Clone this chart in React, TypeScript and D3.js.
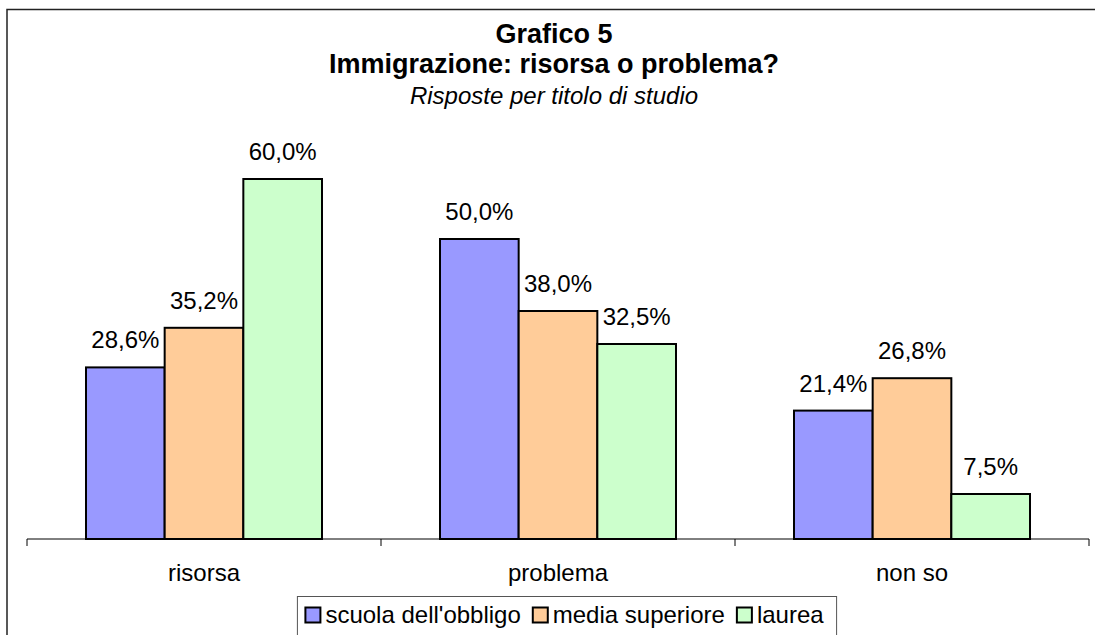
import React from "react";
import * as d3 from "d3";

const categories = ["risorsa", "problema", "non so"];
const seriesNames = ["scuola dell'obbligo", "media superiore", "laurea"];
const seriesColors = ["#9999FF", "#FFCC99", "#CCFFCC"];
const scuolaValues = [28.6, 50.0, 21.4];
const mediaValues = [35.2, 38.0, 26.8];
const laureaValues = [60.0, 32.5, 7.5];
const titleLines = ["Grafico 5", "Immigrazione: risorsa o problema?"];
const subtitle = "Risposte per titolo di studio";

const W = 1095;
const H = 635;
const FONT = "'Liberation Sans', Arial, Helvetica, sans-serif";

const fmt = (v: number) => d3.format(".1f")(v).replace(".", ",") + "%";

function measure(text: string, size: number) {
  if (typeof document === "undefined") return text.length * size * 0.5;
  const c = document.createElement("canvas");
  const ctx = c.getContext("2d");
  if (!ctx) return text.length * size * 0.5;
  ctx.font = `${size}px ${FONT}`;
  return ctx.measureText(text).width;
}

export default function App() {
  const values = [scuolaValues, mediaValues, laureaValues];
  const plotLeft = 27;
  const plotRight = 1089;
  const baseY = 539;

  const x0 = d3.scaleBand<string>().domain(categories).range([plotLeft, plotRight]).paddingInner(0).paddingOuter(0);
  const groupW = x0.bandwidth() / 1.5;
  const x1 = d3.scaleBand<string>().domain(seriesNames).range([0, groupW]);
  const y = d3.scaleLinear().domain([0, 60]).range([baseY, 179]);

  const titleCx = 554;

  // legend layout
  const legFont = 24;
  const sq = 15;
  const entries = seriesNames.map((n) => ({ name: n, w: measure(n, legFont) }));
  const padL = 8, gapSqText = 5, gapEntry = 12, padR = 13;
  const totalW = padL + entries.reduce((s, e) => s + sq + gapSqText + e.w, 0) + gapEntry * (entries.length - 1) + padR;
  const legCx = 567;
  const legLeft = legCx - totalW / 2;
  let cursor = legLeft + padL;
  const legItems = entries.map((e, i) => {
    const item = { ...e, x: cursor, color: seriesColors[i] };
    cursor += sq + gapSqText + e.w + gapEntry;
    return item;
  });

  const ticks = [...categories.map((c) => x0(c) as number), plotRight];

  return (
    <svg width={W} height={H} style={{ position: "absolute", left: 0, top: 0, background: "#fff" }} fontFamily={FONT}>
      <rect x={0} y={0} width={W} height={H} fill="#fff" />
      <rect x={7} y={9.5} width={W + 20} height={H + 20} fill="none" stroke="#222" strokeWidth={1.5} />

      <text x={titleCx} y={43} textAnchor="middle" fontSize={27} fontWeight="bold" fill="#000">{titleLines[0]}</text>
      <text x={titleCx} y={73} textAnchor="middle" fontSize={27} fontWeight="bold" fill="#000">{titleLines[1]}</text>
      <text x={titleCx} y={104} textAnchor="middle" fontSize={24} fontStyle="italic" fill="#000">{subtitle}</text>

      {categories.map((c, ci) => {
        const gx = (x0(c) as number) + (x0.bandwidth() - groupW) / 2;
        return (
          <g key={c}>
            {seriesNames.map((s, si) => {
              const v = values[si][ci];
              const bx = gx + (x1(s) as number);
              return (
                <g key={s}>
                  <rect x={bx} y={y(v)} width={x1.bandwidth()} height={baseY - y(v)} fill={seriesColors[si]} stroke="#000" strokeWidth={2} />
                  <text x={bx + x1.bandwidth() / 2} y={y(v) - 19} textAnchor="middle" fontSize={24} fill="#000">{fmt(v)}</text>
                </g>
              );
            })}
            <text x={(x0(c) as number) + x0.bandwidth() / 2} y={581} textAnchor="middle" fontSize={24} fill="#000">{c}</text>
          </g>
        );
      })}

      <line x1={plotLeft} x2={plotRight} y1={baseY} y2={baseY} stroke="#000" strokeWidth={1} />
      {ticks.map((t, i) => (
        <line key={i} x1={t} x2={t} y1={baseY} y2={baseY + 7} stroke="#000" strokeWidth={1} />
      ))}

      <rect x={legLeft} y={596.5} width={totalW} height={60} fill="#fff" stroke="#555" strokeWidth={1} />
      {legItems.map((it) => (
        <g key={it.name}>
          <rect x={it.x} y={607.5} width={sq} height={sq} fill={it.color} stroke="#000" strokeWidth={2} />
          <text x={it.x + sq + gapSqText} y={623} fontSize={legFont} fill="#000">{it.name}</text>
        </g>
      ))}
    </svg>
  );
}
